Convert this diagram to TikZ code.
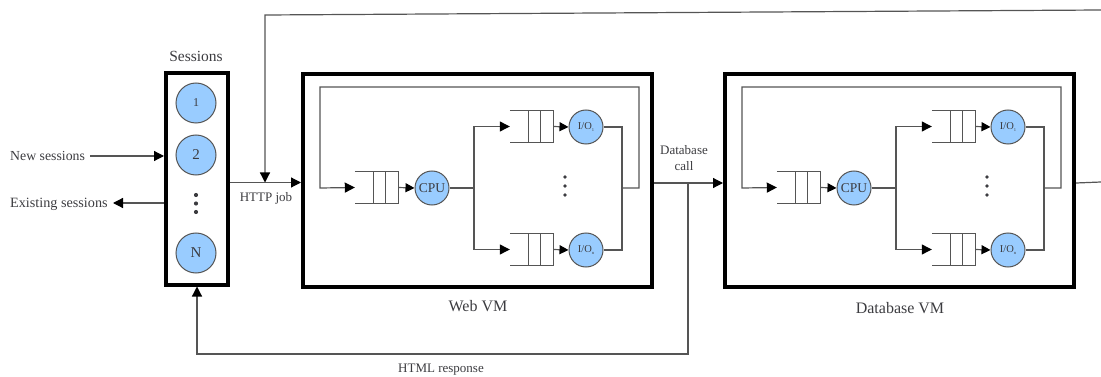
\documentclass[tikz,border=0pt]{standalone}
\usepackage{fontspec}
\setmainfont{Liberation Serif}
\usetikzlibrary{arrows.meta,calc}
\definecolor{jobblue}{RGB}{153,204,255}
\definecolor{ink}{RGB}{60,60,64}
\definecolor{wirec}{RGB}{85,85,85}

\tikzset{
  wire/.style={draw=wirec, line width=1.2pt},
  arr/.style={wire, -{Triangle[length=10pt,width=10pt,color=black]}},
  sarr/.style={wire, -{Triangle[length=9pt,width=9pt,color=black]}},
  frame/.style={draw=black, line width=4pt, inner sep=0pt},
  station/.style={circle, draw=wirec, line width=1pt, fill=jobblue, minimum size=34pt, inner sep=0pt, text=ink},
  queuebox/.style={minimum width=43pt, minimum height=31pt, inner sep=0pt},
  lbl/.style={text=ink, font=\fontsize{13}{15}\selectfont, inner sep=0pt},
  biglbl/.style={text=ink, font=\fontsize{16}{18}\selectfont, inner sep=0pt},
  blob/.style={circle, fill=ink, minimum size=3.8pt, inner sep=0pt},
}

% open-ended queue with two cells at its right end
\newcommand\drawqueue[1]{%
  \draw[wire] (#1.north west) -- (#1.north east) -- (#1.south east) -- (#1.south west);
  \draw[wire] ($(#1.north east)+(-12.5,0)$) -- ($(#1.south east)+(-12.5,0)$);
  \draw[wire] ($(#1.north east)+(-25,0)$) -- ($(#1.south east)+(-25,0)$);
}

\newcommand\iolabel[1]{{\fontsize{10.5}{12}\selectfont I/O\raisebox{-2.5pt}{\fontsize{4.5}{5}\selectfont #1}}}

% one virtual machine: CPU station feeding n I/O stations, with feedback loop
\newcommand\vmunit[4]{%
  \begin{scope}[xshift=#2pt]
    \node[frame, minimum width=349pt, minimum height=213pt] (#1box) at (477.5,180.5) {};
    \node[biglbl] (#1name) at (478,#4) {#3};
    \node[queuebox] (#1qc) at (376.5,187.5) {};
    \node[station, font=\fontsize{13.5}{15}\selectfont] (#1cpu) at (432,188) {CPU};
    \node[queuebox, minimum height=32pt] (#1qa) at (531.5,126.5) {};
    \node[queuebox, minimum height=32pt] (#1qb) at (531.5,249.5) {};
    \node[station] (#1ioa) at (586,127) {\iolabel{1}};
    \node[station] (#1iob) at (586,250) {\iolabel{n}};
    \node[blob] (#1da) at (565,177) {};
    \node[blob] (#1db) at (565,186) {};
    \node[blob] (#1dc) at (565,195) {};
    \coordinate (#1fork) at (474,188);
    \coordinate (#1join) at (622,188);
    \coordinate (#1loopR) at (639,87);
    \coordinate (#1loopL) at (320,87);
    \coordinate (#1loopIn) at (320,188);
    \drawqueue{#1qc}
    \drawqueue{#1qa}
    \drawqueue{#1qb}
    \draw[sarr] (#1qc.east) -- (#1cpu.west);
    \draw[sarr] (#1qa.east) -- (#1ioa.west);
    \draw[sarr] (#1qb.east) -- (#1iob.west);
    \draw[wire] (#1cpu.east) -- (#1fork);
    \draw[arr] (#1fork) |- (#1qa.west);
    \draw[arr] (#1fork) |- (#1qb.west);
    \draw[wire] (#1ioa.east) -| (#1join);
    \draw[wire] (#1iob.east) -| (#1join);
    \draw[arr] (#1join) -| (#1loopR) -- (#1loopL) -- (#1loopIn) -- (#1qc.west);
  \end{scope}
}

\begin{document}
\begin{tikzpicture}[x=1pt, y=-1pt]
  \useasboundingbox (0,0) rectangle (1101,377);

  % session pool
  \node[frame, minimum width=62pt, minimum height=211pt] (sess) at (197,179) {};
  \node[text=ink, font=\fontsize{15.5}{17}\selectfont, inner sep=0pt] (sesslbl) at (196,56) {Sessions};
  \node[station, minimum size=40pt, font=\fontsize{12}{14}\selectfont] (s1) at (196,103) {1};
  \node[station, minimum size=40pt, font=\fontsize{15}{17}\selectfont] (s2) at (196,155) {2};
  \node[blob, minimum size=4.2pt] (sd1) at (196,195) {};
  \node[blob, minimum size=4.2pt] (sd2) at (196,203.5) {};
  \node[blob, minimum size=4.2pt] (sd3) at (196,212) {};
  \node[station, minimum size=40pt, font=\fontsize{15}{17}\selectfont] (sN) at (196,253) {N};

  \node[lbl, anchor=west, font=\fontsize{13.8}{16}\selectfont] (newl) at (10,156) {New sessions};
  \node[lbl, anchor=west, font=\fontsize{14.2}{16}\selectfont] (exl) at (10,204) {Existing sessions};
  \draw[arr] (newl.east) ++(5,0) coordinate (newstart) (newstart) -- (sess.west |- newstart);
  \coordinate (exend) at (113,203);
  \draw[arr] (sess.west |- exend) -- (exend);

  % the two machines
  \vmunit{w}{0}{Web VM}{306}
  \vmunit{d}{422}{Database VM}{308}

  % HTTP job into the web machine
  \coordinate (hj) at (265,182.5);
  \coordinate (topL) at (265,15);
  \coordinate (topR) at (1101,10);
  \draw[arr] (sess.east |- hj) -- (wbox.west |- hj);
  \draw[arr] (topR) -- (topL) -- (hj);
  \node[lbl] (httpl) at (266,198) {HTTP job};

  % database call and HTML response
  \coordinate (dbj) at (688,183);
  \coordinate (hrR) at (688,354);
  \coordinate (hrL) at (197,354);
  \draw[arr] (wbox.east |- dbj) -- (dbox.west |- dbj);
  \node[lbl, align=center, font=\fontsize{13}{16}\selectfont] (dbcall) at (684,158) {Database\\call};
  \draw[arr] (dbj) -- (hrR) -- (hrL) -- (sess.south);
  \node[lbl] (htmll) at (441,370) {HTML response};

  % database output
  \coordinate (outR) at (1101,182);
  \draw[wire] (dbox.east |- dbj) -- (outR);
\end{tikzpicture}
\end{document}
